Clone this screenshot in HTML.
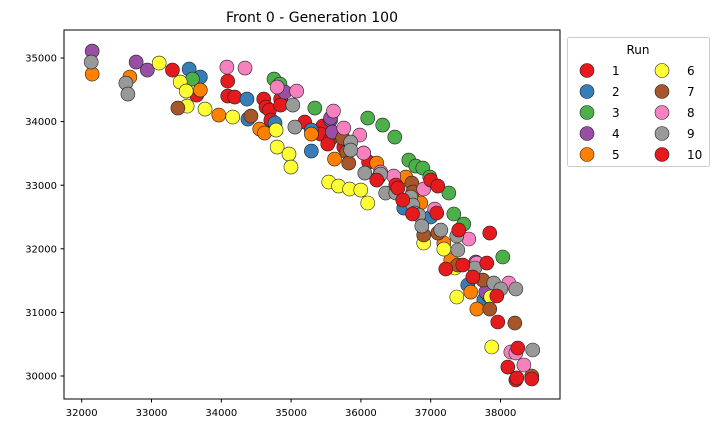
<!DOCTYPE html>
<html><head><meta charset="utf-8"><style>
html,body{margin:0;padding:0;background:#fff;}
svg{display:block;font-family:"DejaVu Sans","Liberation Sans",sans-serif;}
</style></head><body>
<svg id="chart" width="719" height="433" viewBox="0 0 719 433" xmlns="http://www.w3.org/2000/svg">
<rect width="719" height="433" fill="#fff"/>
<text x="312" y="22" font-size="14" text-anchor="middle">Front 0 -  Generation 100</text>
<g id="points"></g>
<rect x="64" y="30" width="496" height="369" fill="none" stroke="#000" stroke-width="1"/>
<g id="xticks"></g>
<g id="yticks"></g>
<g id="legend">
<rect x="567.5" y="37.5" width="142" height="129" rx="2" fill="#fff" stroke="#ccc"/>
<text x="638" y="54" font-size="12" text-anchor="middle">Run</text>
</g>
</svg>
<script>
const xTicks = [32000, 33000, 34000, 35000, 36000, 37000, 38000];
const yTicks = [30000, 31000, 32000, 33000, 34000, 35000];
const runNames = ["1","2","3","4","5","6","7","8","9","10"];
const runColors = ["#e41a1c","#377eb8","#4daf4a","#984ea3","#ff7f00","#ffff33","#a65628","#f781bf","#999999","#e41a1c"];
const run1 = [[33300,34810],[34092,34637],[34092,34402],[33648,34417],[34192,34386],[34608,34354],[34640,34229],[34690,34182],[34850,34354],[34850,34260],[34710,34024],[35195,33993],[35455,33930],[35425,33804],[35565,33726],[35525,33647],[35755,33600],[36040,33506],[36110,33364]];
const run2 = [[33540,34826],[33700,34700],[34368,34354],[34382,34040],[34770,33977],[35290,33867],[35290,33537],[35565,34024],[36614,32641],[37000,32500],[37531,31431],[37761,31195],[37833,31258]];
const run3 = [[33586,34669],[34755,34669],[34840,34590],[35340,34213],[36098,34056],[36312,33946],[36485,33757],[36686,33395],[36787,33301],[36887,33270],[36987,33128],[37260,32877],[37331,32547],[37474,32389],[38033,31871]];
const run4 = [[32150,35109],[32780,34936],[32940,34810],[34910,34464],[35565,34056],[35593,33836],[37646,31792],[37790,31320]];
const run5 = [[32150,34747],[32690,34700],[33700,34496],[33964,34103],[34550,33883],[34620,33820],[35290,33804],[35622,33411],[36227,33348],[36643,33128],[36858,32720],[37188,32091],[37288,31824],[37574,31320],[37661,31053]];
const run6 = [[33110,34920],[33411,34622],[33497,34480],[33511,34244],[33767,34197],[34164,34072],[34785,33867],[34800,33600],[34970,33490],[34998,33285],[35539,33050],[35680,32987],[35838,32940],[35998,32924],[36098,32720],[36900,32091],[37188,31996],[37346,31698],[37374,31242],[37861,31242],[37875,30456]];
const run7 = [[33378,34213],[34425,34087],[35740,33741],[35797,33521],[35826,33348],[36256,33128],[36730,33034],[36744,32892],[36900,32217],[37102,32248],[37388,31745],[37747,31509],[37846,31053],[38205,30833],[38448,30000]];
const run8 = [[34080,34857],[34340,34842],[34800,34543],[35080,34480],[35607,34166],[35755,33899],[35984,33789],[36040,33506],[36283,33207],[36470,33144],[36900,32940],[37058,32625],[37546,32154],[37661,31776],[38119,31462],[38148,30377],[38220,30362],[38335,30173]];
const run9 = [[32136,34936],[32633,34606],[32662,34433],[35025,34260],[35054,33914],[35854,33678],[35854,33553],[36056,33191],[36283,33175],[36355,32877],[36500,32877],[36715,32814],[36744,32688],[36772,32562],[36830,32531],[36873,32358],[37145,32295],[37374,32201],[37388,31981],[37632,31698],[37904,31462],[38005,31368],[38220,31368],[38462,30409]];
const run10 = [[36227,33081],[36500,33003],[36530,32955],[37000,33081],[36600,32767],[36740,32547],[37087,32563],[37846,32248],[37216,31682],[37460,31745],[37804,31776],[37947,31258],[37961,30849],[38105,30141],[38220,29937],[38448,29953],[38248,30440],[38234,29969],[37102,32987],[37402,32295],[37603,31556]];
const runs = [run1,run2,run3,run4,run5,run6,run7,run8,run9,run10];

const NS = "http://www.w3.org/2000/svg";
function xScale(v){ return 81.7 + (v - 32000) * 0.0698; }
function yScale(v){ return 376 - (v - 30000) * 0.0636; }
function mk(tag, attrs){ const e = document.createElementNS(NS, tag); for (const k in attrs) e.setAttribute(k, attrs[k]); return e; }

const xg = document.getElementById('xticks');
xTicks.forEach(t => {
  const x = xScale(t);
  const ln = mk('line', {x1:x, x2:x, y1:399, y2:402.5, stroke:'#000'});
  
  
  xg.appendChild(ln);
  const tx = mk('text', {x:x, y:416, 'font-size':10, 'text-anchor':'middle'});
  tx.textContent = t;
  
  
  xg.appendChild(tx);
});
const yg = document.getElementById('yticks');
yTicks.forEach(t => {
  const y = yScale(t);
  const ln = mk('line', {x1:60.5, x2:64, y1:y, y2:y, stroke:'#000'});
  
  
  yg.appendChild(ln);
  const tx = mk('text', {x:57, y:y + 3.6, 'font-size':10, 'text-anchor':'end'});
  tx.textContent = t;
  
  
  yg.appendChild(tx);
});

const pg = document.getElementById('points');
runs.forEach((run, i) => {
  run.forEach(p => {
    const c = mk('circle', {cx:xScale(p[0]), cy:yScale(p[1]), r:7, fill:runColors[i], stroke:'#222', 'stroke-width':0.6});
    
    
    pg.appendChild(c);
  });
});

const lg = document.getElementById('legend');
runNames.forEach((n, i) => {
  const col = i < 5 ? 0 : 1;
  const row = i % 5;
  const cx = col ? 662 : 587;
  const cy = 70.5 + row * 21;
  const c = mk('circle', {cx:cx, cy:cy, r:7, fill:runColors[i], stroke:'#222', 'stroke-width':0.6});
  
  
  lg.appendChild(c);
  const t = mk('text', {x: col ? 687 : 612, y: cy + 4.5, 'font-size':12});
  t.textContent = n;
  
  
  lg.appendChild(t);
});
</script>
</body></html>
